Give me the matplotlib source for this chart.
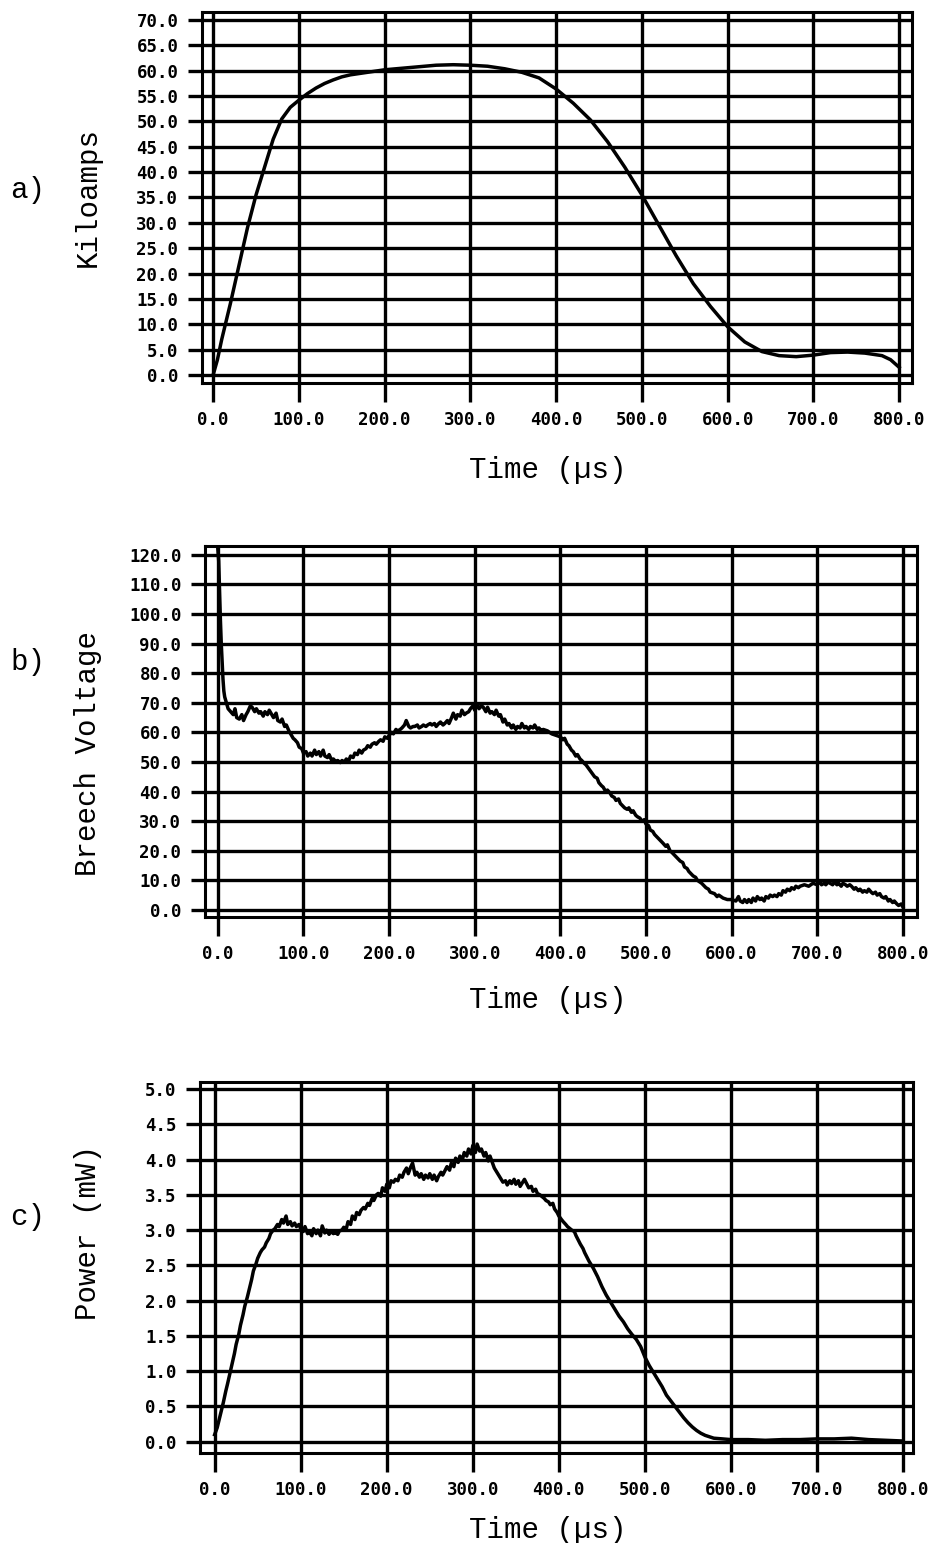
import matplotlib
matplotlib.use("Agg")
import matplotlib.pyplot as plt
import numpy as np

# ---------------- data ----------------
time_a = [0, 5, 10, 20, 30, 40, 50, 60, 70, 80, 90, 100, 110, 120, 130, 140, 150, 160, 180, 200,
          220, 240, 260, 280, 300, 320, 340, 360, 380, 400, 420, 440, 460, 480, 500, 520, 540,
          560, 580, 600, 620, 640, 660, 680, 700, 720, 740, 760, 780, 790, 800]
kiloamps = [0, 3, 7, 14, 21.5, 29, 35.5, 41, 46.5, 50.5, 52.8, 54.2, 55.5, 56.6, 57.5, 58.2, 58.8,
            59.2, 59.7, 60.2, 60.5, 60.8, 61.1, 61.2, 61.1, 60.9, 60.4, 59.7, 58.6, 56.4, 53.6,
            50.3, 46, 41, 35.5, 29.5, 23.5, 18, 13.5, 9.5, 6.5, 4.6, 3.8, 3.6, 3.9, 4.4, 4.5, 4.3,
            3.8, 3, 1.5]

time_b = [0, 1, 2, 3, 4, 5, 6, 7, 8, 10, 12, 15, 18, 20, 22, 25, 28, 30, 33, 35, 38, 40, 43, 45,
          48, 50, 53, 55, 58, 60, 63, 65, 68, 70, 73, 75, 78, 80, 83, 85, 88, 90, 93, 95, 98, 100,
          103, 105, 108, 110, 113, 115, 118, 120, 123, 125, 128, 130, 133, 135, 138, 140, 143, 145,
          148, 150, 153, 155, 158, 160, 163, 165, 168, 170, 173, 175, 178, 180, 183, 185, 188, 190,
          193, 195, 198, 200, 203, 205, 208, 210, 213, 215, 218, 220, 223, 225, 228, 230, 233, 235,
          238, 240, 243, 245, 248, 250, 253, 255, 258, 260, 263, 265, 268, 270, 273, 275, 278, 280,
          283, 285, 288, 290, 293, 295, 298, 300, 303, 305, 308, 310, 313, 315, 318, 320, 323, 325,
          328, 330, 333, 335, 338, 340, 343, 345, 348, 350, 353, 355, 358, 360, 363, 365, 368, 370,
          373, 375, 378, 380, 385, 390, 395, 400, 403, 405, 408, 410, 413, 415, 418, 420, 423, 425,
          428, 430, 435, 440, 443, 445, 448, 450, 453, 455, 458, 460, 463, 465, 468, 470, 475, 478,
          480, 483, 485, 488, 490, 493, 495, 498, 500, 503, 505, 508, 510, 515, 520, 523, 525, 528,
          530, 535, 540, 543, 545, 548, 550, 555, 558, 560, 565, 570, 573, 575, 580, 583, 585, 590,
          595, 600, 605, 608, 610, 613, 615, 618, 620, 623, 625, 628, 630, 633, 635, 638, 640, 643,
          645, 648, 650, 653, 655, 658, 660, 663, 665, 668, 670, 673, 675, 678, 680, 685, 690, 695,
          700, 703, 705, 708, 710, 713, 715, 718, 720, 723, 725, 728, 730, 733, 735, 738, 740, 743,
          745, 748, 750, 753, 755, 758, 760, 763, 765, 768, 770, 773, 775, 778, 780, 783, 785, 788,
          790, 793, 795, 798, 800]
breech_voltage = [122, 118, 108, 98, 90, 84, 78, 74, 72, 70, 68, 67, 66, 68, 65, 64.5, 66, 64, 66,
                  67, 69, 68.5, 67, 68, 66.5, 67, 65.5, 67, 66, 67.5, 66, 65, 66.5, 64, 63.5, 64.5,
                  62, 62.5, 60.5, 59.5, 58, 57.5, 56.5, 55, 54.5, 53, 53.5, 52, 53, 52, 54, 52.5,
                  53.5, 52, 54, 52, 51.5, 52.5, 50.5, 51, 50, 50.5, 49.8, 50.5, 50, 51, 50.5, 52,
                  51.5, 53, 52.5, 54, 53, 54, 54.5, 55.5, 55, 56, 56.5, 56, 57, 57.5, 57, 58.5, 58,
                  59, 60, 59.5, 61, 60.5, 61, 61.5, 62.5, 64, 62, 61.5, 62, 62, 62.5, 61.5, 62,
                  62.5, 62, 62.5, 63, 62.5, 63, 62, 63, 63.5, 62.5, 63, 64, 63, 65, 66.5, 64.5, 66,
                  65.5, 67.5, 66, 66.5, 67, 68, 69, 67.5, 69.5, 68, 69, 68.5, 67, 68.5, 66.5, 67,
                  66, 67.5, 65.5, 66, 63.5, 64.5, 62.5, 63, 61.5, 62.5, 61, 62, 61.5, 63, 61.5, 62,
                  61, 62, 61.5, 62.5, 61, 61.5, 60.5, 61, 60.5, 59.5, 59, 58.5, 57.5, 58, 56, 55.5,
                  54, 53.5, 52, 52.5, 51, 50.5, 49.5, 49, 47, 45, 44.5, 43, 42, 41.5, 40, 40.5,
                  39.5, 38.5, 38, 37, 37.5, 36, 34.5, 34, 34.5, 33, 33.5, 32, 31.5, 31, 30, 30.5,
                  29, 28.5, 27, 26.5, 25.5, 24, 22.5, 21.5, 22, 20, 19.5, 18, 16.5, 16, 14.5, 14,
                  13, 11.5, 11, 10, 9, 7.5, 7, 6, 5.5, 4.5, 5, 4, 3.5, 3.5, 3, 4.5, 3, 2.5, 3.5,
                  2.5, 3.5, 2.5, 4, 3, 4.5, 3.5, 4, 3, 4.5, 4, 5, 4.5, 5, 4.5, 5.5, 5, 6.5, 6, 7,
                  6.5, 7.5, 7, 8, 7.5, 8, 8.5, 8, 9, 8.5, 9.5, 8.5, 9, 8.5, 9.5, 9, 8.5, 9.5, 8.5,
                  9, 8, 9, 8.5, 8, 8.5, 8, 7, 7.5, 6.5, 7, 6, 6.5, 6, 7, 6, 5.5, 6, 5, 5.5, 4.5, 4,
                  4.5, 3, 3.5, 2.5, 3, 2, 1.5, 2, 1]

time_c = [0, 3, 5, 8, 10, 13, 15, 18, 20, 23, 25, 28, 30, 33, 35, 38, 40, 43, 45, 48, 50, 53, 55,
          58, 60, 63, 65, 68, 70, 73, 75, 78, 80, 83, 85, 88, 90, 93, 95, 98, 100, 103, 105, 108,
          110, 113, 115, 118, 120, 123, 125, 128, 130, 133, 135, 138, 140, 143, 145, 148, 150, 153,
          155, 158, 160, 163, 165, 168, 170, 173, 175, 178, 180, 183, 185, 188, 190, 193, 195, 198,
          200, 203, 205, 208, 210, 213, 215, 218, 220, 223, 225, 228, 230, 233, 235, 238, 240, 243,
          245, 248, 250, 253, 255, 258, 260, 263, 265, 268, 270, 273, 275, 278, 280, 283, 285, 288,
          290, 293, 295, 298, 300, 303, 305, 308, 310, 313, 315, 318, 320, 323, 325, 328, 330, 333,
          335, 338, 340, 343, 345, 348, 350, 353, 355, 358, 360, 363, 365, 368, 370, 373, 375, 378,
          380, 383, 385, 388, 390, 393, 395, 398, 400, 403, 405, 408, 410, 413, 415, 418, 420, 423,
          425, 428, 430, 435, 440, 445, 450, 455, 460, 465, 470, 475, 480, 485, 490, 495, 500, 505,
          510, 515, 520, 525, 530, 535, 540, 545, 550, 555, 560, 565, 570, 575, 580, 590, 600, 620,
          640, 660, 680, 700, 720, 740, 760, 780, 800]
power_mw = [0.1, 0.2, 0.3, 0.45, 0.55, 0.72, 0.82, 0.98, 1.08, 1.25, 1.38, 1.52, 1.65, 1.8, 1.92,
            2.05, 2.15, 2.3, 2.42, 2.52, 2.6, 2.68, 2.72, 2.76, 2.82, 2.88, 2.95, 3.0, 3.02, 3.08,
            3.05, 3.15, 3.1, 3.2, 3.08, 3.12, 3.06, 3.1, 3.05, 3.08, 3.02, 2.98, 3.05, 2.95, 2.98,
            2.92, 3.02, 2.95, 3.0, 2.92, 3.06, 2.96, 3.0, 2.94, 2.98, 2.95, 2.97, 2.94, 2.99, 3.0,
            3.04, 3.02, 3.12, 3.08, 3.2, 3.15, 3.25, 3.22, 3.28, 3.32, 3.3, 3.38, 3.35, 3.45, 3.42,
            3.5, 3.52, 3.48, 3.6, 3.55, 3.65, 3.6, 3.7, 3.68, 3.72, 3.7, 3.78, 3.75, 3.82, 3.88,
            3.8, 3.9, 3.95, 3.78, 3.82, 3.75, 3.8, 3.72, 3.78, 3.74, 3.8, 3.72, 3.78, 3.7, 3.76,
            3.82, 3.78, 3.85, 3.9, 3.85, 3.95, 3.9, 4.02, 3.96, 4.05, 4.0, 4.1, 4.05, 4.15, 4.08,
            4.2, 4.1, 4.22, 4.12, 4.15, 4.05, 4.1, 3.98, 4.05, 3.95, 3.88, 3.82, 3.78, 3.72, 3.68,
            3.7, 3.64, 3.7, 3.66, 3.72, 3.65, 3.7, 3.62, 3.68, 3.72, 3.65, 3.6, 3.62, 3.55, 3.58,
            3.52, 3.5, 3.48, 3.45, 3.42, 3.4, 3.36, 3.38, 3.3, 3.25, 3.2, 3.15, 3.12, 3.08, 3.05,
            3.02, 3.0, 2.98, 2.92, 2.85, 2.8, 2.74, 2.68, 2.56, 2.46, 2.34, 2.2, 2.08, 1.98, 1.88,
            1.78, 1.7, 1.6, 1.52, 1.45, 1.35, 1.2, 1.08, 0.98, 0.88, 0.78, 0.66, 0.58, 0.5, 0.42,
            0.34, 0.27, 0.21, 0.16, 0.12, 0.09, 0.07, 0.05, 0.04, 0.03, 0.03, 0.02, 0.03, 0.03,
            0.04, 0.04, 0.05, 0.03, 0.02, 0.01]

x_ticks = [0, 100, 200, 300, 400, 500, 600, 700, 800]
y_ticks_a = [0, 5, 10, 15, 20, 25, 30, 35, 40, 45, 50, 55, 60, 65, 70]
y_ticks_b = [0, 10, 20, 30, 40, 50, 60, 70, 80, 90, 100, 110, 120]
y_ticks_c = [0.0, 0.5, 1.0, 1.5, 2.0, 2.5, 3.0, 3.5, 4.0, 4.5, 5.0]

ylabels = ["Kiloamps", "Breech Voltage", "Power (mW)"]
panel_tags = ["a)", "b)", "c)"]
xlabel = "Time (\u00b5s)"

# ---------------- figure ----------------
W, H = 932, 1543
fig = plt.figure(figsize=(W / 100, H / 100), dpi=100)

def box(l, r, t, b):
    return [l / W, 1 - b / H, (r - l) / W, (b - t) / H]

panels = [
    dict(pos=box(202, 912, 12, 383), x=time_a, y=kiloamps, yt=y_ticks_a,
         xlim=(-13, 815), ylim=(-1.6, 71.6)),
    dict(pos=box(205, 917, 546, 917), x=time_b, y=breech_voltage, yt=y_ticks_b,
         xlim=(-15, 816.5), ylim=(-2.4, 123.0)),
    dict(pos=box(200, 913, 1082, 1453), x=time_c, y=power_mw, yt=y_ticks_c,
         xlim=(-17, 811.5), ylim=(-0.16, 5.1)),
]

tick_font = dict(family="DejaVu Sans Mono", weight="bold", size=12.5)
label_font = dict(family="Liberation Mono", size=21)

for p in panels:
    ax = fig.add_axes(p["pos"])
    ax.plot(p["x"], p["y"], color="black", lw=2.5, zorder=3)
    ax.set_xlim(*p["xlim"])
    ax.set_ylim(*p["ylim"])
    ax.set_xticks(x_ticks)
    ax.set_xticklabels([f"{v:.1f}" for v in x_ticks], fontdict=tick_font)
    ax.set_yticks(p["yt"])
    ax.set_yticklabels([f"{v:.1f}" for v in p["yt"]], fontdict=tick_font)
    ax.grid(True, color="black", lw=2.4)
    ax.set_axisbelow(True)
    ax.tick_params(axis="x", direction="out", length=14, width=2.4, pad=6)
    ax.tick_params(axis="y", direction="out", length=10, width=2.4, pad=7)
    for s in ax.spines.values():
        s.set_linewidth(2.2)
        s.set_color("black")

# axis labels and panel tags
def ftxt(x, y, s, **kw):
    fig.text(x / W, 1 - y / H, s, ha="center", va="center", **kw)

ftxt(88, 197, ylabels[0], rotation=90, **label_font)
ftxt(88, 753, ylabels[1], rotation=90, **label_font)
ftxt(88, 1232, ylabels[2], rotation=90, **label_font)
for yy in (470, 1000, 1530):
    ftxt(548, yy, xlabel, **label_font)
ftxt(28, 190, panel_tags[0], **label_font)
ftxt(28, 662, panel_tags[1], **label_font)
ftxt(28, 1217, panel_tags[2], **label_font)

fig.savefig("out.png", dpi=100)
